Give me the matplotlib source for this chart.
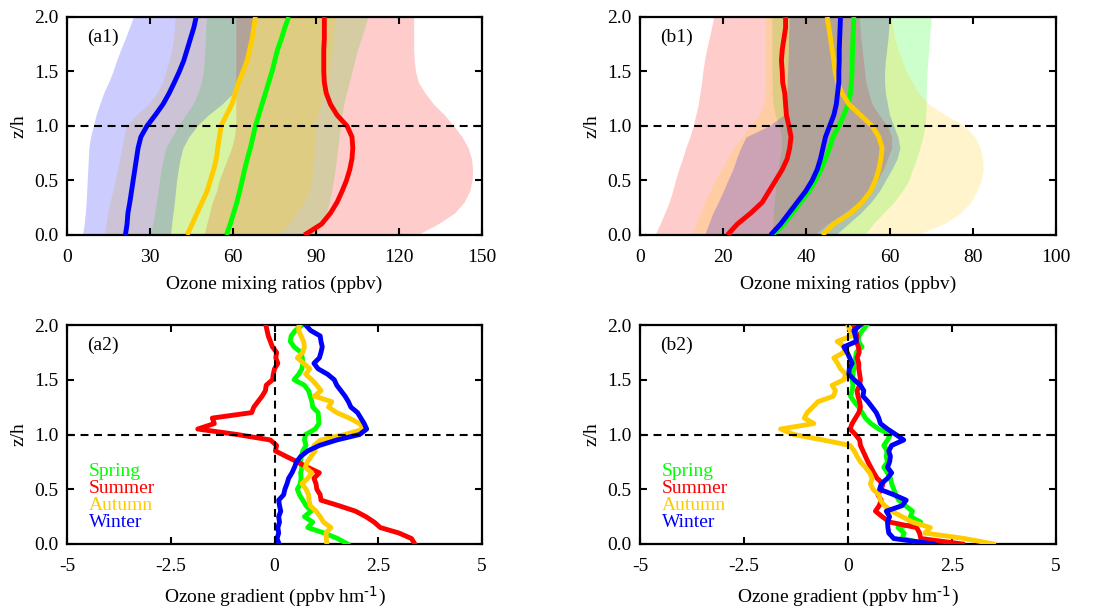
import numpy as np
import matplotlib
matplotlib.use("Agg")
import matplotlib.pyplot as plt

plt.rcParams["font.family"] = "Liberation Serif"
plt.rcParams["mathtext.default"] = "regular"
plt.rcParams["axes.unicode_minus"] = False

seasons = ["Spring", "Summer", "Autumn", "Winter"]
colors = ["#00ff00", "#ff0000", "#ffcc00", "#0000ff"]

# heights for the mean profiles (z/h)
z_prof = [0.0, 0.1, 0.2, 0.3, 0.4, 0.5, 0.6, 0.7, 0.8, 0.9, 1.0,
          1.1, 1.2, 1.3, 1.4, 1.5, 1.6, 1.7, 1.8, 1.9, 2.0]

# (a1) ozone mixing ratios, mean and lower/upper band
spring_a1 = [57.6, 59.0, 60.2, 61.4, 62.4, 63.3, 64.2, 65.2, 66.3, 67.2, 68.1,
             69.3, 70.5, 71.7, 72.9, 74.1, 75.1, 76.1, 77.5, 78.7, 80.1]
spring_a1_lo = [30, 31, 31.7, 32.3, 32.9, 33.4, 34, 34.8, 35.7, 38, 40.2,
                42.8, 45.5, 47.3, 48.5, 49.3, 49.6, 49.8, 50, 50.2, 50.4]
spring_a1_hi = [89.5, 92.5, 93.8, 94.8, 95.6, 96.3, 96.9, 97.4, 97.9, 98.4, 98.8,
                99.3, 100, 101, 102, 103, 104, 105, 106.3, 107.6, 108.7]
summer_a1 = [85.8, 92.0, 95.2, 97.6, 99.4, 101.0, 102.2, 103.0, 103.3, 103.0, 101.2,
             97.6, 95.2, 93.7, 93.0, 92.8, 92.8, 92.8, 93.0, 93.0, 93.0]
summer_a1_lo = [49.5, 50.5, 51.5, 52.5, 54, 55, 56.5, 58, 59.5, 60.5, 61,
                61, 61, 61, 61, 61, 61, 61, 61, 61, 61]
summer_a1_hi = [126.5, 134, 140, 143.5, 145.5, 146.4, 146.6, 146.2, 145, 142.8, 139.8,
                136.5, 132.5, 129.5, 127, 126, 125.5, 125.3, 125.3, 125.3, 125.3]
autumn_a1 = [43.4, 45.2, 47.0, 48.8, 50.6, 51.8, 53.0, 54.0, 54.5, 55.1, 55.7,
             57.6, 59.6, 60.8, 62.0, 63.6, 65.1, 66.0, 66.9, 67.5, 68.1]
autumn_a1_lo = [13.5, 14, 14.7, 15.5, 16.5, 17.4, 18.2, 19, 19.8, 20.5, 21.5,
                25, 29.5, 32.5, 34.5, 35.7, 37, 37.8, 38.5, 38.8, 39.1]
autumn_a1_hi = [76.5, 80, 83, 85.5, 87.5, 88.3, 88.8, 89.2, 89.4, 89.5, 89.7,
                90.5, 91.8, 93, 94, 94.8, 95.3, 95.8, 96.2, 96.5, 96.8]
winter_a1 = [21.1, 21.7, 22.0, 22.7, 23.3, 23.9, 24.5, 25.1, 25.7, 26.7, 28.9,
             31.9, 34.7, 36.9, 38.8, 40.6, 42.2, 43.4, 44.6, 45.8, 46.7]
winter_a1_lo = [5.6, 6.2, 6.6, 6.9, 7.1, 7.3, 7.5, 7.7, 7.9, 8.5, 9.5,
                10.5, 11.8, 13.2, 15, 16.6, 17.9, 19.4, 21, 22.5, 24]
winter_a1_hi = [37.4, 37.8, 38.3, 38.8, 39.2, 39.6, 40.2, 40.9, 41.9, 44, 47,
                51, 56, 60, 62.5, 64, 65, 66, 67, 67.8, 68.5]

# (b1)
spring_b1 = [31.8, 34.6, 36.6, 38.6, 40.6, 42.2, 43.5, 44.6, 45.6, 46.4, 47.8,
             49.0, 50.0, 50.6, 50.8, 51.0, 51.0, 51.1, 51.2, 51.3, 51.4]
spring_b1_lo = [31.5, 32, 32, 32.3, 32.5, 32.8, 33.2, 33.6, 34, 34, 33.5,
                32.5, 32, 31.8, 31.8, 31.7, 31.7, 31.7, 31.7, 31.7, 31.7]
spring_b1_hi = [54, 56, 58.5, 61, 63, 64.6, 65.5, 66.5, 67.3, 68, 68.5,
                68.7, 68.8, 68.8, 68.9, 69, 69.2, 69.4, 69.6, 69.8, 70]
summer_b1 = [21.0, 23.4, 26.6, 29.4, 31.0, 32.6, 34.2, 35.4, 36.0, 36.3, 35.8,
             35.2, 35.0, 34.8, 34.3, 34.2, 34.0, 34.2, 34.6, 35.0, 35.0]
summer_b1_lo = [3.6, 4.8, 5.9, 7.0, 7.8, 8.5, 9.3, 10.2, 11.0, 12.0, 12.8,
                13.4, 14.0, 14.4, 14.8, 15.1, 15.5, 16.0, 16.6, 17.2, 17.7]
summer_b1_hi = [42, 45, 49, 52.5, 55, 57, 58.5, 59.5, 60.5, 60.5, 59.5,
                57.5, 55.8, 55, 54.3, 54, 53.7, 53.4, 53.1, 52.9, 52.7]
autumn_b1 = [43.8, 46.6, 50.6, 53.4, 55.4, 56.6, 57.4, 57.9, 58.2, 57.4, 55.8,
             53.0, 50.2, 48.6, 47.5, 46.9, 46.6, 46.2, 45.8, 45.4, 45.0]
autumn_b1_lo = [12.5, 13.5, 14.5, 15.5, 16.8, 18, 19.5, 21, 22.5, 24.5, 26.5,
                28.5, 29.8, 30.2, 30.2, 30.2, 30.2, 30.2, 30.2, 30.2, 30.2]
autumn_b1_hi = [66.5, 73, 77, 79.5, 81, 82, 82.5, 82.4, 81.8, 80.5, 78,
                73.5, 69.5, 67, 65.5, 64, 63, 62, 61.3, 60.8, 60.4]
winter_b1 = [31.4, 33.8, 35.8, 37.8, 39.8, 41.4, 42.6, 43.4, 44.0, 44.6, 45.6,
             46.6, 47.2, 47.5, 47.8, 47.8, 47.9, 47.9, 48.0, 48.1, 48.2]
winter_b1_lo = [15.5, 16.5, 17.5, 18.8, 20, 21.1, 22.3, 23.2, 24.2, 25.5, 31,
                34.5, 35, 35.3, 35.4, 35.5, 35.6, 35.7, 35.7, 35.8, 35.8]
winter_b1_hi = [47, 50, 53, 55.5, 57.5, 59, 60.5, 61.8, 62.5, 62, 61,
                60, 59.5, 59, 58.8, 58.8, 59, 59.3, 59.6, 59.8, 60]

# heights for the gradient profiles (z/h)
z_grad = [0.00, 0.05, 0.10, 0.15, 0.20, 0.25, 0.30, 0.35, 0.40, 0.45,
          0.50, 0.55, 0.60, 0.65, 0.70, 0.75, 0.80, 0.85, 0.90, 0.95,
          1.00, 1.05, 1.10, 1.15, 1.20, 1.25, 1.30, 1.35, 1.40, 1.45,
          1.50, 1.55, 1.60, 1.65, 1.70, 1.75, 1.80, 1.85, 1.90, 1.95, 2.00]

# (a2) ozone gradient
spring_a2 = [1.76, 1.52, 1.20, 0.80, 0.92, 0.72, 0.88, 0.76, 0.68, 0.60,
             0.55, 0.62, 0.64, 0.63, 0.66, 0.62, 0.65, 0.68, 0.76, 0.72,
             0.75, 0.98, 1.07, 1.06, 1.05, 0.92, 0.90, 0.86, 0.82, 0.72,
             0.47, 0.58, 0.66, 0.68, 0.67, 0.64, 0.47, 0.38, 0.40, 0.50, 0.67]
summer_a2 = [3.38, 3.30, 3.00, 2.55, 2.40, 2.20, 1.95, 1.55, 1.12, 1.10,
             1.02, 1.00, 0.95, 1.08, 0.80, 0.55, 0.28, 0.02, 0.05, -0.10,
             -0.90, -1.85, -1.45, -1.50, -0.55, -0.50, -0.40, -0.30, -0.22, -0.20,
             -0.05, -0.03, 0.00, 0.08, 0.03, 0.05, -0.05, -0.10, -0.15, -0.18, -0.21]
autumn_a2 = [1.26, 1.25, 1.24, 1.36, 1.18, 1.10, 1.00, 0.86, 0.83, 0.82,
             0.76, 0.66, 0.80, 0.90, 0.74, 0.79, 0.88, 0.98, 0.95, 1.11,
             1.70, 2.15, 2.05, 1.80, 1.50, 1.30, 1.38, 0.96, 1.12, 1.02,
             0.90, 0.75, 0.85, 0.70, 0.55, 0.68, 0.72, 0.70, 0.64, 0.58, 0.59]
winter_a2 = [0.11, 0.06, 0.10, 0.08, 0.12, 0.10, 0.15, 0.12, 0.10, 0.22,
             0.25, 0.30, 0.34, 0.42, 0.48, 0.53, 0.63, 0.80, 1.08, 1.50,
             2.05, 2.22, 2.16, 2.08, 2.00, 1.84, 1.78, 1.70, 1.60, 1.50,
             1.44, 1.28, 1.05, 0.95, 1.08, 1.12, 1.15, 1.12, 1.10, 0.87, 0.75]

# (b2)
spring_b2 = [1.90, 1.30, 1.35, 1.20, 1.75, 1.50, 1.55, 1.38, 1.22, 1.15,
             1.10, 1.05, 1.02, 0.95, 0.86, 0.95, 0.92, 0.94, 0.86, 0.95,
             1.02, 0.74, 0.55, 0.42, 0.34, 0.26, 0.15, 0.06, 0.10, 0.12,
             0.10, 0.12, 0.14, 0.16, 0.18, 0.20, 0.34, 0.25, 0.26, 0.35, 0.45]
summer_b2 = [2.75, 1.75, 1.72, 1.65, 1.00, 0.82, 0.66, 0.75, 0.80, 0.72,
             0.80, 0.84, 0.70, 0.62, 0.55, 0.48, 0.42, 0.36, 0.30, 0.28,
             0.18, 0.05, 0.10, 0.18, 0.26, 0.30, 0.28, 0.24, 0.22, 0.28,
             0.30, 0.28, 0.26, 0.26, 0.22, 0.27, 0.25, 0.20, 0.22, 0.18, 0.14]
autumn_b2 = [3.50, 2.80, 1.85, 1.98, 1.55, 1.30, 1.05, 0.88, 0.78, 0.74,
             0.60, 0.54, 0.58, 0.52, 0.42, 0.30, 0.22, 0.15, 0.05, -0.60,
             -1.30, -1.62, -0.82, -1.05, -0.98, -0.85, -0.72, -0.35, -0.30, -0.38,
             -0.10, -0.05, -0.18, -0.25, -0.34, -0.10, -0.08, -0.26, 0.08, 0.05, 0.00]
winter_b2 = [2.06, 1.10, 0.98, 0.96, 0.95, 1.00, 0.92, 1.30, 1.40, 1.10,
             0.76, 0.80, 0.95, 1.05, 0.95, 1.00, 1.02, 0.98, 1.05, 1.34,
             1.15, 0.95, 0.78, 0.74, 0.68, 0.58, 0.48, 0.36, 0.38, 0.30,
             0.15, 0.02, 0.03, 0.10, 0.04, -0.02, -0.10, 0.20, 0.18, 0.14, 0.30]

prof_a = [(spring_a1, spring_a1_lo, spring_a1_hi), (summer_a1, summer_a1_lo, summer_a1_hi),
          (autumn_a1, autumn_a1_lo, autumn_a1_hi), (winter_a1, winter_a1_lo, winter_a1_hi)]
prof_b = [(spring_b1, spring_b1_lo, spring_b1_hi), (summer_b1, summer_b1_lo, summer_b1_hi),
          (autumn_b1, autumn_b1_lo, autumn_b1_hi), (winter_b1, winter_b1_lo, winter_b1_hi)]
grad_a = [spring_a2, summer_a2, autumn_a2, winter_a2]
grad_b = [spring_b2, summer_b2, autumn_b2, winter_b2]

TICK_FS = 14
LABEL_FS = 14
LW = 3.5
DASH = (0, (3.8, 2.7))


def style(ax, xlim, xticks, xticklabels, xlabel, tag):
    ax.set_xlim(*xlim)
    ax.set_ylim(0, 2)
    ax.set_xticks(xticks)
    ax.set_xticklabels(xticklabels)
    ax.set_yticks([0, 0.5, 1.0, 1.5, 2.0])
    ax.set_yticklabels(["0.0", "0.5", "1.0", "1.5", "2.0"])
    ax.tick_params(direction="in", top=True, right=True, length=5, width=1.5,
                   labelsize=TICK_FS)
    ax.tick_params(axis="x", pad=10)
    ax.tick_params(axis="y", pad=6)
    for sp in ax.spines.values():
        sp.set_linewidth(1.6)
    ax.set_xlabel(xlabel, fontsize=LABEL_FS, labelpad=7)
    ax.set_ylabel("z/h", fontsize=LABEL_FS, labelpad=5)
    ax.text(0.048, 0.905, tag, transform=ax.transAxes, fontsize=LABEL_FS,
            ha="left", va="center")


def draw_profiles(ax, data):
    for (mean, lo, hi), c in zip(data, colors):
        ax.fill_betweenx(z_prof, lo, hi, color=c, alpha=0.2, lw=0)
    for (mean, lo, hi), c in zip(data, colors):
        ax.plot(mean, z_prof, color=c, lw=LW, solid_capstyle="butt", zorder=3)
    ax.axhline(1.0, color="k", ls=DASH, lw=1.5, zorder=4)


def draw_gradients(ax, data):
    for vals, c in zip(data, colors):
        ax.plot(vals, z_grad, color=c, lw=LW, zorder=3)
    ax.axhline(1.0, color="k", ls=DASH, lw=1.5, zorder=4)
    ax.axvline(0.0, color="k", ls=DASH, lw=1.5, zorder=4)
    for i, (name, c) in enumerate(zip(seasons, colors)):
        ax.text(-4.48, 0.66 - i * 0.155, name, color=c, fontsize=LABEL_FS,
                ha="left", va="center")


fig = plt.figure(figsize=(10.97, 6.10), dpi=100)
ax_a1 = fig.add_axes([0.0611, 0.6148, 0.3783, 0.3574])
ax_b1 = fig.add_axes([0.5834, 0.6148, 0.3792, 0.3574])
ax_a2 = fig.add_axes([0.0611, 0.1082, 0.3783, 0.3590])
ax_b2 = fig.add_axes([0.5834, 0.1082, 0.3792, 0.3590])

draw_profiles(ax_a1, prof_a)
style(ax_a1, (0, 150), [0, 30, 60, 90, 120, 150], ["0", "30", "60", "90", "120", "150"],
      "Ozone mixing ratios (ppbv)", "(a1)")

draw_profiles(ax_b1, prof_b)
style(ax_b1, (0, 100), [0, 20, 40, 60, 80, 100], ["0", "20", "40", "60", "80", "100"],
      "Ozone mixing ratios (ppbv)", "(b1)")

grad_ticks = [-5, -2.5, 0, 2.5, 5]
grad_labels = ["-5", "-2.5", "0", "2.5", "5"]
grad_xlabel = r"Ozone gradient (ppbv hm$^{\text{-1}}$)"

draw_gradients(ax_a2, grad_a)
style(ax_a2, (-5, 5), grad_ticks, grad_labels, grad_xlabel, "(a2)")

draw_gradients(ax_b2, grad_b)
style(ax_b2, (-5, 5), grad_ticks, grad_labels, grad_xlabel, "(b2)")

fig.savefig("out.png", dpi=100)
